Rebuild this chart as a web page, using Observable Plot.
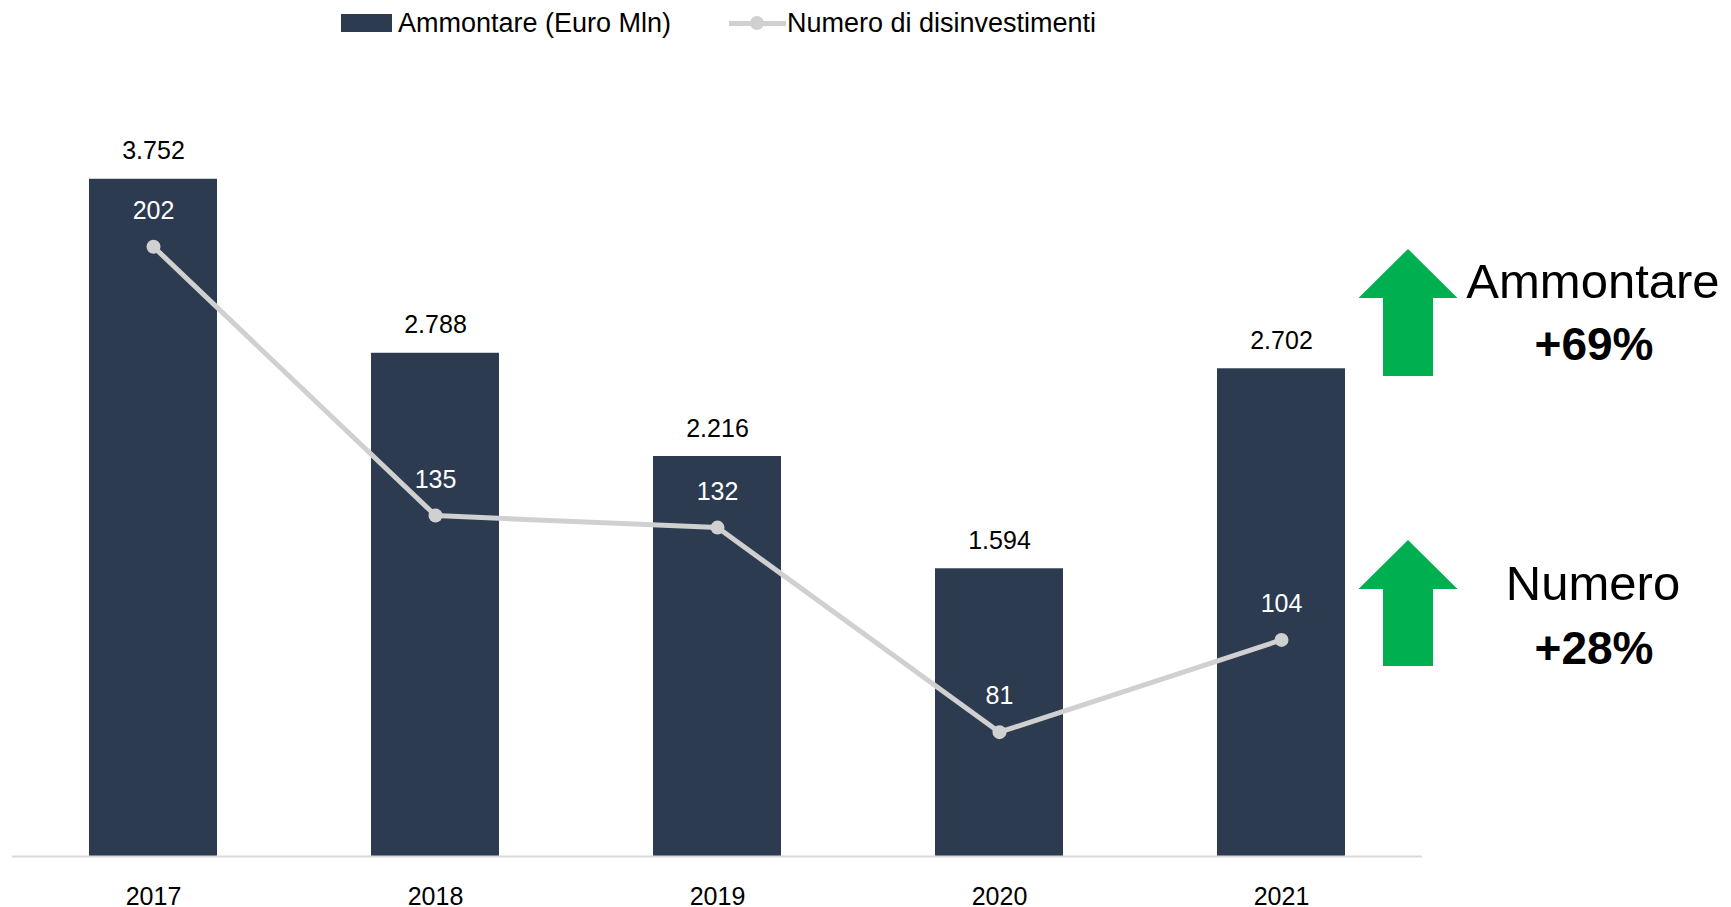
<!DOCTYPE html>
<html>
<head>
<meta charset="utf-8">
<script src="https://cdn.jsdelivr.net/npm/d3@7"></script>
<script src="https://cdn.jsdelivr.net/npm/@observablehq/plot@0.6"></script>
<style>
  html, body { margin: 0; padding: 0; background: #fff; }
  body { width: 1731px; height: 907px; position: relative; overflow: hidden; font-family: "Liberation Sans", Arial, sans-serif; }
  #legend { position: relative; height: 46px; }
  .lg { position: absolute; top: 0; height: 46px; display: flex; align-items: center; font-size: 27px; color: #000; }
  .sw { width: 51px; height: 18px; background: #2C3B4F; margin-right: 6px; }
  .ln { position: relative; width: 57px; height: 46px; margin-right: 1px; }
  .ln::before { content: ""; position: absolute; left: 0; right: 0; top: 21px; height: 5px; background: #D0D0D0; }
  .ln::after { content: ""; position: absolute; left: 21px; top: 16px; width: 14px; height: 14px; border-radius: 50%; background: #D0D0D0; }
</style>
</head>
<body>
<div id="legend">
  <div class="lg" style="left:341px"><div class="sw"></div><span>Ammontare (Euro Mln)</span></div>
  <div class="lg" style="left:729px"><div class="ln"></div><span>Numero di disinvestimenti</span></div>
</div>
<div id="chart"></div>
<script>
const years = ["2017", "2018", "2019", "2020", "2021"];
const ammontare = [3752, 2788, 2216, 1594, 2702];
const numero = [202, 135, 132, 81, 104];
const annotations = [
  { label: "Ammontare", change: "+69%" },
  { label: "Numero", change: "+28%" }
];

const it = d3.formatLocale({ decimal: ",", thousands: ".", grouping: [3], currency: ["€", ""] });
const fmt = it.format(",d");

// secondary axis mapped onto the primary one
const sec = d3.scaleLinear([50, 230], [0, 4000]);

const data = years.map((y, i) => ({ year: y, amount: ammontare[i], count: numero[i], countY: sec(numero[i]) }));

const barColor = "#2C3B4F";
const lineColor = "#D0D0D0";

const chart = Plot.plot({
  width: 1731,
  height: 861,
  marginLeft: 12,
  marginRight: 309,
  marginTop: 88,
  marginBottom: 51,
  style: { fontFamily: "'Liberation Sans', Arial, sans-serif", background: "transparent", overflow: "visible" },
  x: { type: "band", domain: years, paddingInner: 0.546, paddingOuter: 0.273, label: null },
  y: { domain: [0, 4000], axis: null, label: null },
  marks: [
    Plot.barY(data, { x: "year", y: "amount", fill: barColor }),
    Plot.ruleY([0], { stroke: "#D9D9D9", strokeWidth: 2 }),
    Plot.axisX({ tickSize: 0, tickPadding: 31, fontSize: 25, fill: "#000", label: null }),
    Plot.text(data, { x: "year", y: "amount", text: d => fmt(d.amount), dy: -28, fontSize: 25, fill: "#000" }),
    Plot.line(data, { x: "year", y: "countY", stroke: lineColor, strokeWidth: 5 }),
    Plot.dot(data, { x: "year", y: "countY", r: 7, fill: lineColor }),
    Plot.text(data, { x: "year", y: "countY", text: d => fmt(d.count), dy: -36, fontSize: 25, fill: "#fff" })
  ]
});
document.getElementById("chart").appendChild(chart);

// decorative arrows + annotations on the right side
const svg = d3.select(chart);
const arrowColor = "#00B050";
const arrows = [
  { tip: 203, base: 252, bottom: 330 },
  { tip: 494, base: 543, bottom: 620 }
];
const cx = 1408, headHalf = 49.5, shaftHalf = 25;
arrows.forEach((a, i) => {
  const pts = [
    [cx, a.tip], [cx + headHalf, a.base], [cx + shaftHalf, a.base], [cx + shaftHalf, a.bottom],
    [cx - shaftHalf, a.bottom], [cx - shaftHalf, a.base], [cx - headHalf, a.base]
  ];
  svg.append("polygon").attr("points", pts.map(p => p.join(",")).join(" ")).attr("fill", arrowColor);
});
const textPos = [
  { y1: 252, y2: 314 },
  { y1: 554, y2: 618 }
];
annotations.forEach((a, i) => {
  svg.append("text").attr("x", 1593).attr("y", textPos[i].y1).attr("text-anchor", "middle")
    .attr("font-size", 49).attr("font-family", "'Liberation Sans', Arial, sans-serif").attr("fill", "#000").text(a.label);
  svg.append("text").attr("x", 1594).attr("y", textPos[i].y2).attr("text-anchor", "middle")
    .attr("font-size", 46).attr("font-weight", "bold").attr("font-family", "'Liberation Sans', Arial, sans-serif").attr("fill", "#000").text(a.change);
});
</script>
</body>
</html>
